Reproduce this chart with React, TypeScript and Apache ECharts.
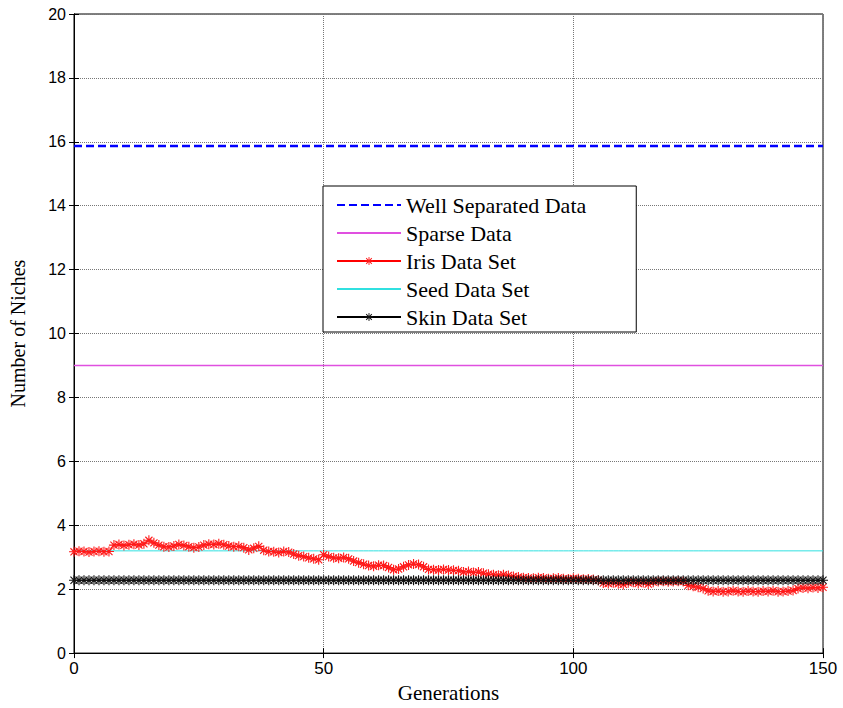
import React, { useEffect, useRef } from "react";
import * as echarts from "echarts";

const generations: number[] = Array.from({ length: 151 }, (_, i) => i);

const wellSeparatedLevel = 15.87;
const sparseLevel = 9.0;
const seedLevel = 3.2;
const skinLevel = 2.28;

const irisValues: number[] = [
  3.17, 3.19, 3.18, 3.16, 3.18, 3.19, 3.17, 3.18,
  3.38, 3.40, 3.37, 3.39, 3.41, 3.38, 3.42,
  3.53, 3.45, 3.38,
  3.33, 3.32, 3.35,
  3.40, 3.37, 3.33, 3.30, 3.32,
  3.38, 3.41, 3.40, 3.42, 3.39,
  3.35, 3.33, 3.34, 3.30,
  3.23, 3.28, 3.34, 3.22,
  3.18, 3.17, 3.15, 3.18, 3.16,
  3.10, 3.05, 3.02, 2.98, 2.95, 2.92,
  3.08, 3.02, 2.98, 2.97, 2.99, 2.95,
  2.88, 2.83, 2.78, 2.74, 2.72, 2.75, 2.74, 2.68,
  2.61, 2.63, 2.70, 2.76, 2.79, 2.77, 2.70, 2.62,
  2.61, 2.60, 2.62, 2.60, 2.59, 2.58,
  2.54, 2.55, 2.52, 2.54, 2.50, 2.47,
  2.45, 2.44, 2.45, 2.43, 2.40, 2.38,
  2.36, 2.35, 2.34, 2.36, 2.35, 2.33, 2.34, 2.35, 2.33, 2.32, 2.34, 2.33, 2.31, 2.32, 2.30, 2.28,
  2.19, 2.18, 2.20, 2.17, 2.15,
  2.20, 2.22, 2.18, 2.21, 2.16, 2.22,
  2.24, 2.25, 2.23, 2.24, 2.25, 2.24,
  2.12, 2.09, 2.06, 2.02,
  1.95, 1.93, 1.94, 1.92, 1.93, 1.95, 1.93, 1.92, 1.94, 1.93, 1.92, 1.94, 1.93, 1.95, 1.92, 1.93, 1.94, 1.96,
  2.02, 2.04, 2.03, 2.05, 2.04, 2.06,
];

const STAR =
  "path://M-1.1,-10L1.1,-10L1.1,10L-1.1,10Z M-10,-1.1L10,-1.1L10,1.1L-10,1.1Z M-7.9,-6.3L-6.3,-7.9L7.9,6.3L6.3,7.9Z M6.3,-7.9L7.9,-6.3L-6.3,7.9L-7.9,6.3Z";

const serif = "'Liberation Serif', 'Times New Roman', serif";
const sans = "'Liberation Sans', Arial, sans-serif";
const hidden = { opacity: 0 };

export default function App() {
  const ref = useRef<HTMLDivElement>(null);
  useEffect(() => {
    if (!ref.current) return;
    const chart = echarts.init(ref.current, undefined, { renderer: "svg" });
    const constant = (v: number) => generations.map((g) => [g, v]);
    const option: any = {
      animation: false,
      backgroundColor: "#ffffff",
      grid: {
        left: 74,
        top: 14,
        right: 20,
        bottom: 54,
        show: true,
        borderColor: "#000",
        borderWidth: 1,
        backgroundColor: "#fff",
      },
      legend: {
        orient: "vertical",
        left: 323,
        top: 186,
        backgroundColor: "#fff",
        borderColor: "#000",
        borderWidth: 1,
        padding: [8, 50, 4, 13],
        itemGap: 6,
        itemWidth: 64,
        itemHeight: 10,
        textStyle: { fontFamily: serif, fontSize: 22, color: "#000" },
        data: [
          { name: "Well Separated Data", itemStyle: hidden },
          { name: "Sparse Data", itemStyle: hidden },
          { name: "Iris Data Set" },
          { name: "Seed Data Set", itemStyle: hidden },
          { name: "Skin Data Set" },
        ],
      },
      xAxis: [
        {
          type: "value",
          min: 0,
          max: 150,
          interval: 50,
          name: "Generations",
          nameLocation: "middle",
          nameGap: 20,
          nameTextStyle: { fontFamily: serif, fontSize: 21, color: "#000" },
          axisLine: { show: true, lineStyle: { color: "#000" } },
          axisTick: { inside: true, length: 5, lineStyle: { color: "#000" } },
          axisLabel: { fontFamily: sans, fontSize: 17, color: "#000", margin: 7 },
          splitLine: { show: true, lineStyle: { color: "#777", type: "dotted" } },
        },
        {
          type: "value",
          position: "top",
          min: 0,
          max: 150,
          interval: 50,
          axisLine: { show: true, lineStyle: { color: "#000" } },
          axisTick: { inside: true, length: 5, lineStyle: { color: "#000" } },
          axisLabel: { show: false },
          splitLine: { show: false },
        },
      ],
      yAxis: [
        {
          type: "value",
          min: 0,
          max: 20,
          interval: 2,
          name: "Number of Niches",
          nameLocation: "middle",
          nameGap: 46,
          nameTextStyle: { fontFamily: serif, fontSize: 20, color: "#000" },
          axisLine: { show: true, lineStyle: { color: "#000" } },
          axisTick: { inside: true, length: 5, lineStyle: { color: "#000" } },
          axisLabel: { fontFamily: sans, fontSize: 16, color: "#000", margin: 8 },
          splitLine: { show: true, lineStyle: { color: "#777", type: "dotted" } },
        },
        {
          type: "value",
          position: "right",
          min: 0,
          max: 20,
          interval: 2,
          axisLine: { show: true, lineStyle: { color: "#000" } },
          axisTick: { inside: true, length: 5, lineStyle: { color: "#000" } },
          axisLabel: { show: false },
          splitLine: { show: false },
        },
      ],
      series: [
        {
          name: "Well Separated Data",
          type: "line",
          color: "#0000ff",
          data: constant(wellSeparatedLevel),
          showSymbol: false,
          symbol: "none",
          lineStyle: { color: "#0000ff", width: 2.5, type: [8, 4] },
          itemStyle: { color: "#0000ff" },
        },
        {
          name: "Sparse Data",
          type: "line",
          color: "#e050e0",
          data: constant(sparseLevel),
          showSymbol: false,
          symbol: "none",
          lineStyle: { color: "#e050e0", width: 1.3, type: "solid" },
          itemStyle: { color: "#e050e0" },
        },
        {
          name: "Iris Data Set",
          type: "line",
          color: "#ff1a1a",
          data: generations.map((g, i) => [g, irisValues[i]]),
          symbol: STAR,
          symbolSize: 10,
          lineStyle: { color: "#ff0000", width: 1 },
          itemStyle: { color: "#ff1a1a", borderWidth: 0 },
        },
        {
          name: "Seed Data Set",
          type: "line",
          color: "#30e0e0",
          data: constant(seedLevel),
          showSymbol: false,
          symbol: "none",
          lineStyle: { color: "#30e0e0", width: 1 },
          itemStyle: { color: "#30e0e0" },
        },
        {
          name: "Skin Data Set",
          type: "line",
          color: "#111",
          data: constant(skinLevel),
          symbol: STAR,
          symbolSize: 10,
          lineStyle: { color: "#000", width: 1 },
          itemStyle: { color: "#111", borderWidth: 0 },
        },
      ],
    };
    chart.setOption(option);
    return () => chart.dispose();
  }, []);
  return <div ref={ref} style={{ width: 843, height: 708, position: "absolute", left: 0, top: 0 }} />;
}
